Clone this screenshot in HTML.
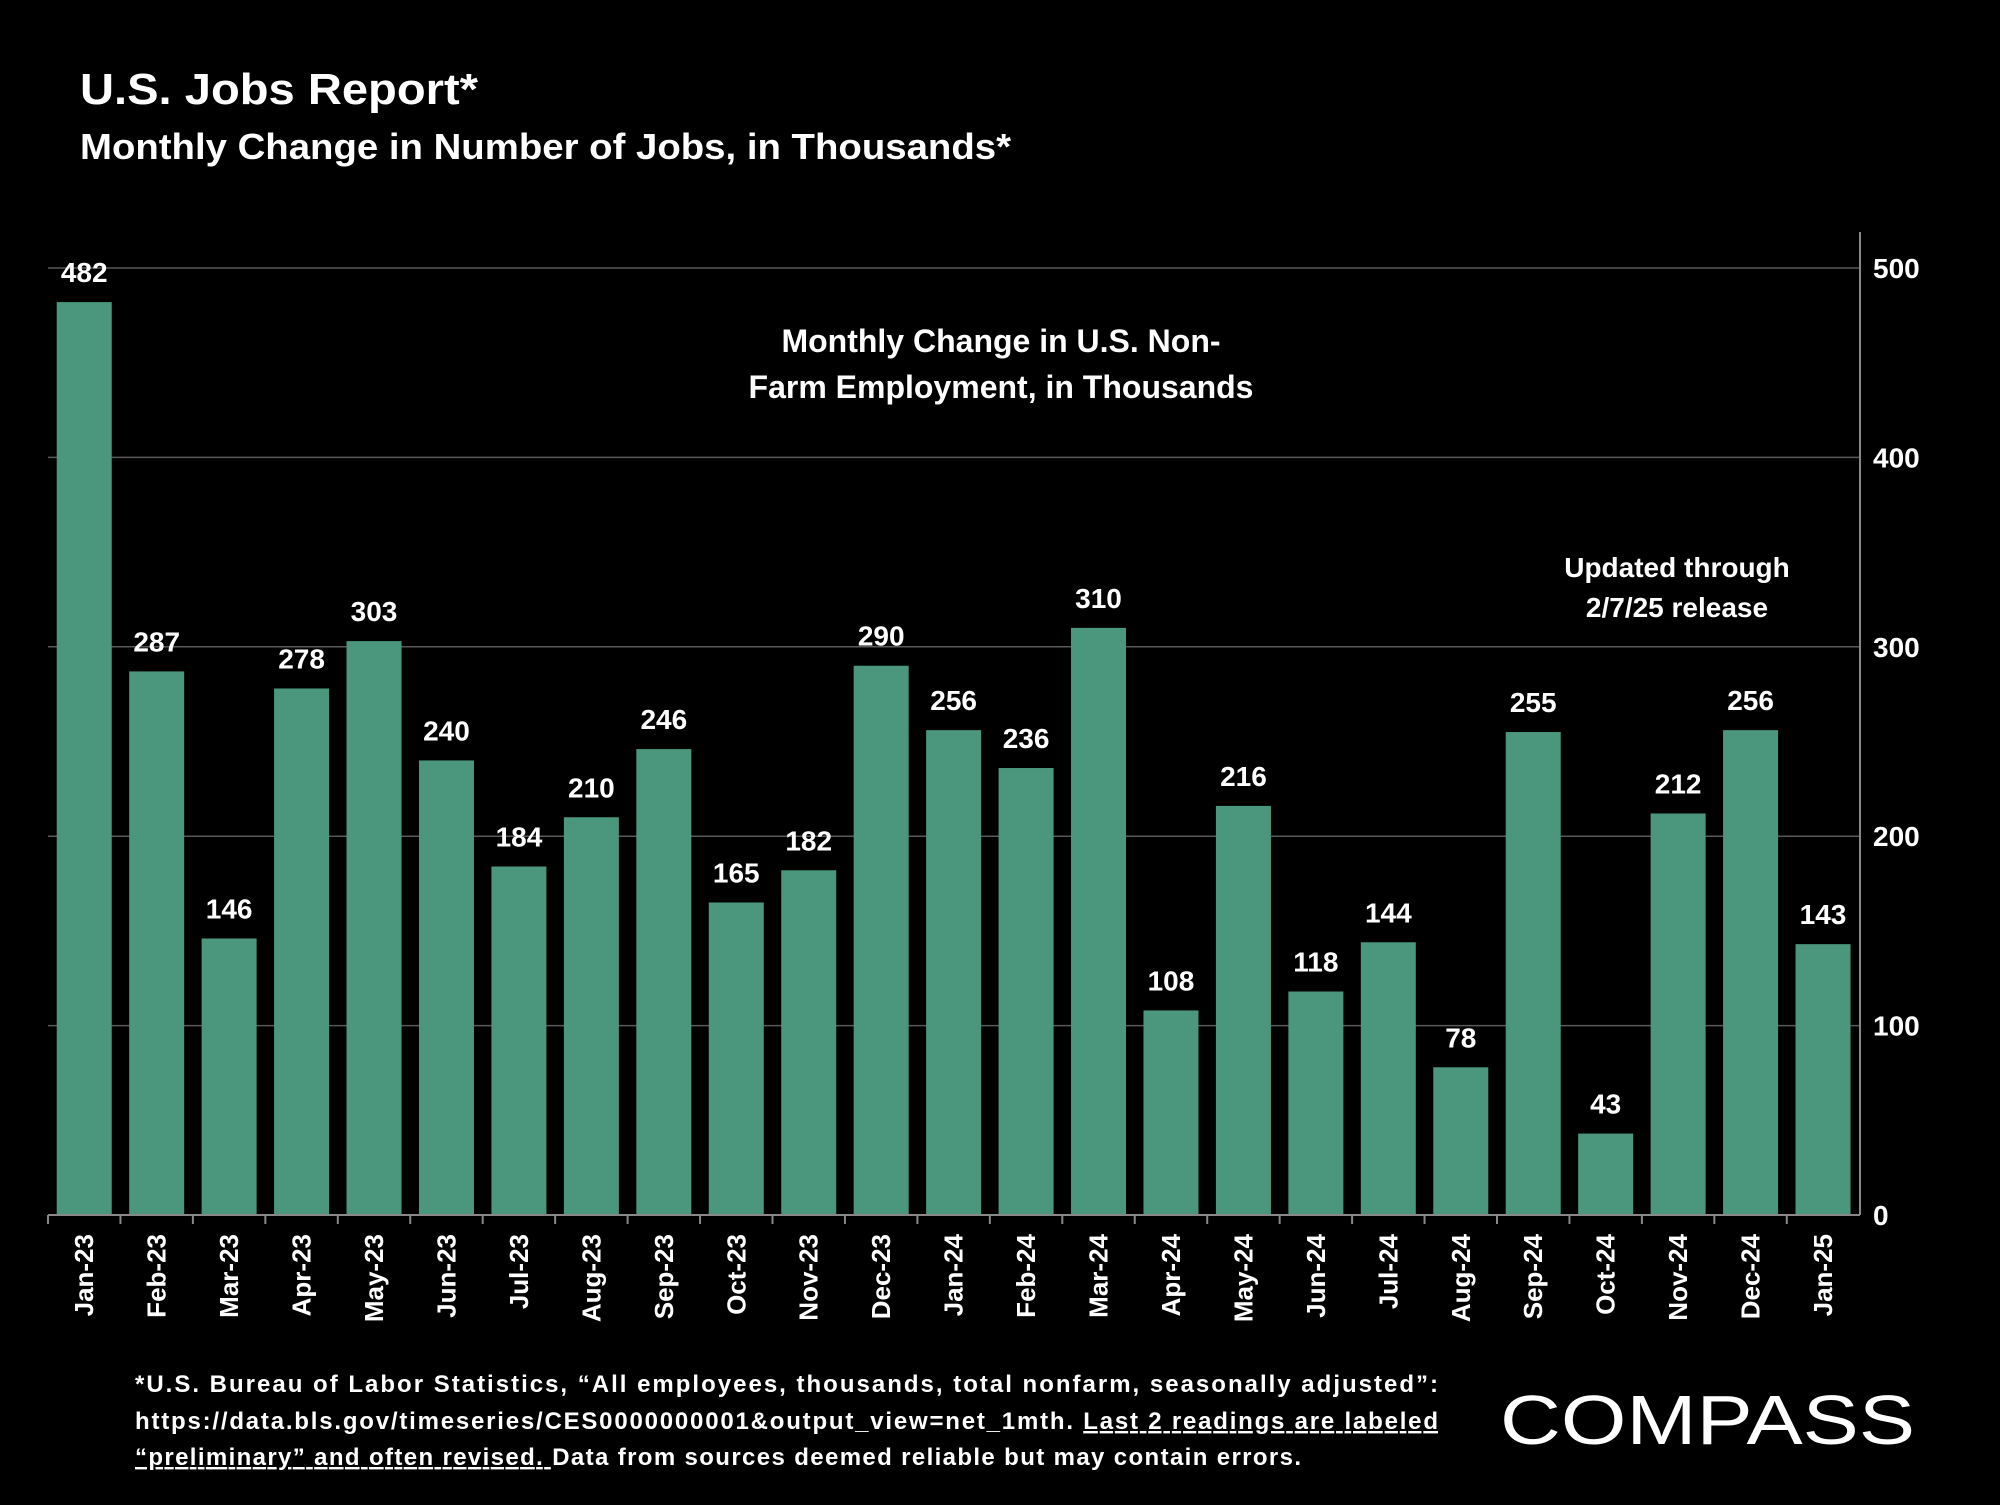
<!DOCTYPE html>
<html><head><meta charset="utf-8"><style>
body{margin:0;background:#000;width:2000px;height:1500px;overflow:hidden;font-family:"Liberation Sans",sans-serif;color:#fff}
svg text{font-family:"Liberation Sans",sans-serif;font-weight:bold;fill:#fff}
</style></head><body>
<svg width="2000" height="1500">
<text x="80" y="104" font-size="44" textLength="398" lengthAdjust="spacingAndGlyphs">U.S. Jobs Report*</text>
<text x="80" y="159" font-size="36" textLength="931" lengthAdjust="spacingAndGlyphs">Monthly Change in Number of Jobs, in Thousands*</text>
<g id="grid"></g><g id="bars"></g><g id="labels"></g><g id="axis"></g>
<text x="1001" y="352" font-size="32" text-anchor="middle">Monthly Change in U.S. Non-</text>
<text x="1001" y="398" font-size="32" text-anchor="middle">Farm Employment, in Thousands</text>
<text x="1677" y="577" font-size="28" text-anchor="middle">Updated through</text>
<text x="1677" y="617" font-size="28" text-anchor="middle">2/7/25 release</text>
<g font-size="24">
<text x="135" y="1392" textLength="1303" lengthAdjust="spacing">*U.S. Bureau of Labor Statistics, “All employees, thousands, total nonfarm, seasonally adjusted”:</text>
<text x="135" y="1429" textLength="1303" lengthAdjust="spacing">https://data.bls.gov/timeseries/CES0000000001&amp;output_view=net_1mth. <tspan text-decoration="underline">Last 2 readings are labeled</tspan></text>
<text x="135" y="1465" textLength="1166" lengthAdjust="spacing"><tspan text-decoration="underline">“preliminary” and often revised. </tspan>Data from sources deemed reliable but may contain errors.</text>
</g>
<text x="1500" y="1444" font-size="70" style="font-weight:normal" textLength="415" lengthAdjust="spacingAndGlyphs">COMPASS</text>
</svg>
<script>
const categories=["Jan-23","Feb-23","Mar-23","Apr-23","May-23","Jun-23","Jul-23","Aug-23","Sep-23","Oct-23","Nov-23","Dec-23","Jan-24","Feb-24","Mar-24","Apr-24","May-24","Jun-24","Jul-24","Aug-24","Sep-24","Oct-24","Nov-24","Dec-24","Jan-25"];
const values=[482,287,146,278,303,240,184,210,246,165,182,290,256,236,310,108,216,118,144,78,255,43,212,256,143];
const yTicks=[0,100,200,300,400,500];
const NS="http://www.w3.org/2000/svg";
const x0=48,step=72.45,y0=1215,y500=268,bw=55;
const y=v=>y0-(y0-y500)*v/500;
const xc=i=>x0+step*(i+0.5);
function mk(tag,attrs,parent,txt){const e=document.createElementNS(NS,tag);for(const k in attrs)e.setAttribute(k,attrs[k]);if(txt!==undefined)e.textContent=txt;document.getElementById(parent).appendChild(e);return e;}
yTicks.forEach(t=>{
 if(t>0){const g=mk('line',{x1:x0,x2:1860,y1:y(t),y2:y(t),stroke:'#595959','stroke-width':1.5},'grid');
 
 }
 const l=mk('text',{x:1873,y:y(t)+10,'font-size':28},'axis',t);
 
 
});
const ax=mk('line',{x1:1860,x2:1860,y1:232,y2:y0,stroke:'#888','stroke-width':2},'axis');


const xa=mk('line',{x1:x0,x2:1860,y1:y0,y2:y0,stroke:'#888','stroke-width':2},'axis');


categories.forEach((c,i)=>{
 const v=values[i];
 const b=mk('rect',{x:xc(i)-bw/2,y:y(v),width:bw,height:y0-y(v),fill:'#4a977e'},'bars');
 
 
 const t=mk('text',{x:xc(i),y:y(v)-20,'font-size':28,'text-anchor':'middle'},'labels',v);
 
 
 const tk=mk('line',{x1:x0+step*i,x2:x0+step*i,y1:y0,y2:y0+9,stroke:'#888','stroke-width':2},'axis');
 
 
 const xl=mk('text',{x:0,y:0,'font-size':26,'text-anchor':'end',transform:`translate(${xc(i)+9},1234) rotate(-90)`},'axis',c);
 
 
});
</script>
</body></html>
